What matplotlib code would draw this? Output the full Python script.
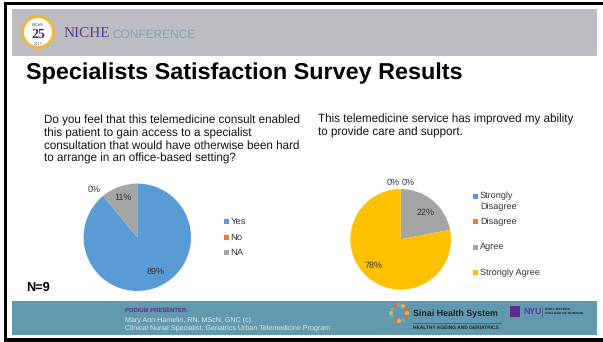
import matplotlib
matplotlib.use("Agg")
import numpy as np
import matplotlib.pyplot as plt
from matplotlib.patches import Rectangle, Circle

W, H = 603, 342

plt.rcParams["font.family"] = ["Liberation Sans", "DejaVu Sans"]
plt.rcParams["text.hinting"] = "no_hinting"

title = "Specialists Satisfaction Survey Results"
q_left = ["Do you feel that this telemedicine consult enabled",
          "this patient to gain access to a specialist",
          "consultation that would have otherwise been hard",
          "to arrange in an office-based setting?"]
q_right = ["This telemedicine service has improved my ability",
           "to provide care and support."]

left_labels = ["Yes", "No", "NA"]
left_values = [89, 0, 11]
left_colors = ["#5B9BD5", "#ED7D31", "#A5A5A5"]

right_labels = ["Strongly\nDisagree", "Disagree", "Agree", "Strongly Agree"]
right_values = [0, 0, 22, 78]
right_colors = ["#5B9BD5", "#ED7D31", "#A5A5A5", "#FFC000"]

fig = plt.figure(figsize=(W / 100, H / 100), dpi=100, facecolor="white")

# whole-figure layer in pixel coordinates, y going down, kept above the pies
bg = fig.add_axes([0, 0, 1, 1])
bg.set_xlim(0, W)
bg.set_ylim(H, 0)
bg.axis("off")
bg.set_zorder(5)

# slide frame: top, left and bottom bars only
bg.add_patch(Rectangle((4, 2.3), W - 4, 2.7, fc="black", ec="none"))
bg.add_patch(Rectangle((4, 2.3), 2.7, H, fc="black", ec="none"))
bg.add_patch(Rectangle((4, 338), W - 4, 4, fc="black", ec="none"))

# banner and footer
bg.add_patch(Rectangle((12, 9), 585, 46.7, fc="#BBBDC0", ec="none"))
bg.add_patch(Rectangle((12, 300.7), 585, 34.3, fc="#6199AE", ec="none"))

# conference badge
bg.add_patch(Circle((38, 32), 17, fc="#F3B63F", ec="none"))
bg.add_patch(Circle((38, 32), 14, fc="white", ec="none"))
bg.text(38, 34, "25", fontsize=10, fontweight="bold", family="Liberation Serif",
        color="#4B2A84", ha="center", va="center")
bg.text(38, 43.5, "2017", fontsize=2.8, color="#555555", ha="center", va="center")
bg.text(38, 24.5, "NICHE", fontsize=2.8, color="#4B2A84", ha="center", va="center")
bg.text(64, 38, "NICHE", fontsize=11, family="Liberation Serif", color="#5B3A8C",
        ha="left", va="baseline")
bg.text(112, 38, "CONFERENCE", fontsize=8.6, color="#7FA3B3", ha="left", va="baseline")

bg.text(25.5, 73, title, fontsize=16.8, fontweight="bold", color="black",
        ha="left", va="center")

q_left_y = [120, 133, 146, 158]
for y, line in zip(q_left_y, q_left):
    bg.text(43.5, y, line, fontsize=8.35, color="#111111", ha="left", va="center")
q_right_y = [119, 132.5]
for y, line in zip(q_right_y, q_right):
    bg.text(317.5, y, line, fontsize=8.35, color="#111111", ha="left", va="center")

bg.text(26, 288, "N=9", fontsize=9.2, fontweight="bold", color="black", ha="left", va="center")


def draw_pie(cx, cy, r, values, colors):
    ax = fig.add_axes([(cx - r) / W, 1 - (cy + r) / H, 2 * r / W, 2 * r / H])
    ax.pie(values, colors=colors, startangle=90, counterclock=False, radius=1,
           wedgeprops={"linewidth": 0})
    ax.set_xlim(-1, 1)
    ax.set_ylim(-1, 1)
    return ax


draw_pie(137.3, 237.3, 53.7, left_values, left_colors)
draw_pie(400.7, 239.3, 50.3, right_values, right_colors)

# value labels, placed in list order
left_pos = [(156, 272), (94, 190), (122.7, 198)]
for (x, y), v in zip(left_pos, left_values):
    bg.text(x, y, f"{v}%", fontsize=6.5, color="#333333", ha="center", va="center")
right_pos = [(393.3, 182.3), (408, 183), (425.3, 212.3), (374, 266)]
for (x, y), v in zip(right_pos, right_values):
    bg.text(x, y, f"{v}%", fontsize=6.5, color="#333333", ha="center", va="center")

# legends
left_leg_y = [221.7, 237.7, 252.7]
for lab, col, y in zip(left_labels, left_colors, left_leg_y):
    bg.add_patch(Rectangle((224, y - 2.5), 5, 5, fc=col, ec="none"))
    bg.text(230.7, y, lab, fontsize=6.8, color="#333333", ha="left", va="center")
right_leg_y = [201.3, 221.7, 247, 272.7]
for lab, col, y in zip(right_labels, right_colors, right_leg_y):
    sy = y - 5.3 if "\n" in lab else y
    bg.add_patch(Rectangle((472.7, sy - 2.5), 5, 5, fc=col, ec="none"))
    bg.text(480, y, lab, fontsize=6.6, color="#333333", ha="left", va="center",
            linespacing=1.35)

# footer text
bg.text(125, 310, "PODIUM PRESENTER:", fontsize=4.2, fontweight="bold", color="#5B2D91",
        ha="left", va="center")
bg.text(125, 319.5, "Mary Ann Hamelin, RN, MScN, GNC (c)", fontsize=5.1, color="#E3EBEF",
        ha="left", va="center")
bg.text(125, 327.5, "Clinical Nurse Specialist, Geriatrics Urban Telemedicine Program",
        fontsize=5.1, color="#E3EBEF", ha="left", va="center")

# hospital mark: ring of small coloured dots
ring = ["#F2B33D", "#E8663C", "#4FB3D9", "#F2B33D", "#E8663C", "#4FB3D9",
        "#F2B33D", "#4FB3D9", "#E8663C", "#4FB3D9", "#F2B33D", "#E8663C"]
for k, c in enumerate(ring):
    a = 2 * np.pi * k / len(ring)
    bg.add_patch(Circle((399 + 8 * np.cos(a), 313 + 8 * np.sin(a)), 2.1, fc=c, ec="none"))
bg.text(413, 313.5, "Sinai Health System", fontsize=6.4, fontweight="bold", color="#16242C",
        ha="left", va="center")
bg.plot([413, 501], [323, 323], color="#3F5F70", lw=0.6)
bg.text(413, 328, "HEALTHY AGEING AND GERIATRICS", fontsize=3.55, fontweight="bold",
        color="#16242C", ha="left", va="center")

# university mark
bg.add_patch(Rectangle((510, 306), 10, 11, fc="#5B2D91", ec="none"))
bg.text(523, 311.5, "NYU", fontsize=6.3, fontweight="bold", color="#5B3A9C", ha="left", va="center")
bg.plot([542, 542], [306, 317], color="#3F5F70", lw=0.5)
bg.text(545, 309.5, "RORY MEYERS", fontsize=2.4, fontweight="bold", color="#16242C",
        ha="left", va="center")
bg.text(545, 313.5, "COLLEGE OF NURSING", fontsize=2.4, fontweight="bold", color="#16242C",
        ha="left", va="center")

fig.savefig("out.png", dpi=100, facecolor="white")
